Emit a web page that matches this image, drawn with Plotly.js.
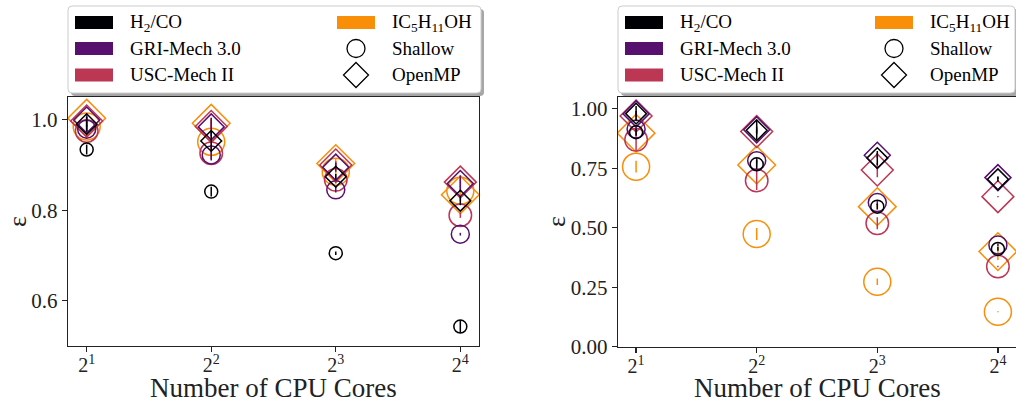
<!DOCTYPE html>
<html>
<head>
<meta charset="utf-8">
<script src="https://cdn.plot.ly/plotly-3.0.1.min.js"></script>
<style>
  html, body { margin: 0; padding: 0; background: #fff; }
  #chart { width: 1016px; height: 403px; }
</style>
</head>
<body>
<div id="chart"></div>
<script>
// ---- data -------------------------------------------------------------
const cores = [2, 4, 8, 16];
const tickLabels = ['2<sup>1</sup>', '2<sup>2</sup>', '2<sup>3</sup>', '2<sup>4</sup>'];
const mechanisms = ['H<sub>2</sub>/CO', 'GRI-Mech 3.0', 'USC-Mech II', 'IC<sub>5</sub>H<sub>11</sub>OH'];
const mechColors = ['#000004', '#57106e', '#bc3754', '#f98e09'];
const methods = ['Shallow', 'OpenMP'];
const xLabel = 'Number of CPU Cores';
const yLabel = 'ε';

// left panel: efficiency per mechanism (rows follow `mechanisms`)
const leftShallow = [
  [0.934, 0.841, 0.705, 0.543],
  [0.979, 0.922, 0.845, 0.747],
  [0.975, 0.926, 0.867, 0.789],
  [0.985, 0.951, 0.885, 0.843]
];
const leftShallowErr = [
  [0.011, 0.011, 0.004, 0.014],
  [0.010, 0.012, 0.006, 0.003],
  [0.012, 0.014, 0.008, 0.006],
  [0.012, 0.014, 0.010, 0.010]
];
const leftOpenMP = [
  [0.990, 0.953, 0.874, 0.821],
  [0.999, 0.984, 0.895, 0.859],
  [0.997, 0.985, 0.900, 0.862],
  [1.003, 0.992, 0.903, 0.834]
];
const leftOpenMPErr = [
  [0.016, 0.022, 0.006, 0.010],
  [0.014, 0.020, 0.010, 0.018],
  [0.012, 0.016, 0.008, 0.012],
  [0.010, 0.012, 0.012, 0.014]
];

// right panel
const rightShallow = [
  [0.902, 0.767, 0.589, 0.411],
  [0.915, 0.782, 0.606, 0.428],
  [0.870, 0.699, 0.519, 0.337],
  [0.757, 0.474, 0.273, 0.147]
];
const rightShallowErr = [
  [0.015, 0.020, 0.012, 0.008],
  [0.010, 0.012, 0.010, 0.006],
  [0.045, 0.040, 0.025, 0.003],
  [0.025, 0.025, 0.014, 0.002]
];
const rightOpenMP = [
  [0.980, 0.910, 0.793, 0.704],
  [0.979, 0.912, 0.805, 0.711],
  [0.970, 0.905, 0.743, 0.631],
  [0.898, 0.764, 0.589, 0.400]
];
const rightOpenMPErr = [
  [0.032, 0.040, 0.030, 0.010],
  [0.012, 0.014, 0.010, 0.006],
  [0.020, 0.012, 0.030, 0.003],
  [0.012, 0.010, 0.012, 0.035]
];

// ---- styling ------------------------------------------------------------
const W = 1016, H = 403;
const FONT = 'Liberation Serif, Times New Roman, serif';
const circleSize = [13, 18, 22.5, 27];
const diamondSize = [16, 20, 24.5, 29];
const px = x => x / W;
const py = y => 1 - y / H;

const panels = [
  { shallow: leftShallow, shallowErr: leftShallowErr, openmp: leftOpenMP, openmpErr: leftOpenMPErr, xa: 'x', ya: 'y' },
  { shallow: rightShallow, shallowErr: rightShallowErr, openmp: rightOpenMP, openmpErr: rightOpenMPErr, xa: 'x2', ya: 'y2' }
];

const traces = [];
const drawOrder = [3, 2, 1, 0];
panels.forEach(p => {
  drawOrder.forEach(m => {
    [['circle-open', p.shallow, p.shallowErr, circleSize, methods[0]],
     ['diamond-open', p.openmp, p.openmpErr, diamondSize, methods[1]]].forEach(([sym, vals, errs, sizes, meth]) => {
      traces.push({
        type: 'scatter', mode: 'markers',
        x: cores, y: vals[m],
        xaxis: p.xa, yaxis: p.ya,
        name: mechanisms[m] + ' ' + meth,
        showlegend: false,
        marker: { symbol: sym, size: sizes[m], color: mechColors[m], line: { width: 1.5, color: mechColors[m] } },
        error_y: { type: 'data', array: errs[m], color: mechColors[m], thickness: 1.5, width: 0 },
        hoverinfo: 'x+y+name'
      });
    });
  });
});

// ---- legend boxes drawn as shapes + annotations -------------------------
function roundRect(x0, y0, x1, y1, r) {
  return `M${px(x0 + r)},${py(y0)} L${px(x1 - r)},${py(y0)} Q${px(x1)},${py(y0)} ${px(x1)},${py(y0 + r)} ` +
         `L${px(x1)},${py(y1 - r)} Q${px(x1)},${py(y1)} ${px(x1 - r)},${py(y1)} ` +
         `L${px(x0 + r)},${py(y1)} Q${px(x0)},${py(y1)} ${px(x0)},${py(y1 - r)} ` +
         `L${px(x0)},${py(y0 + r)} Q${px(x0)},${py(y0)} ${px(x0 + r)},${py(y0)} Z`;
}

const legendBoxes = [
  { left: 68, right: 481, patch1: 75, text1: 128, patch2: 337, text2: 390, mark: 356 },
  { left: 618, right: 1015, patch1: 625, text1: 678, patch2: 875, text2: 928, mark: 894 }
];
const rowY = [22.5, 48.5, 75];
const boxTop = 6, boxBottom = 93;

const shapes = [];
const annotations = [];
legendBoxes.forEach(b => {
  shapes.push({ type: 'path', xref: 'paper', yref: 'paper', path: roundRect(b.left + 3, boxTop + 3, b.right + 3, boxBottom + 3, 4),
                fillcolor: 'rgba(0,0,0,0.35)', line: { width: 0 } });
  shapes.push({ type: 'path', xref: 'paper', yref: 'paper', path: roundRect(b.left, boxTop, b.right, boxBottom, 4),
                fillcolor: '#ffffff', line: { color: '#cccccc', width: 1 } });
  // colour patches: first three mechanisms in column 1, last one in column 2
  const patchSlots = [[b.patch1, rowY[0]], [b.patch1, rowY[1]], [b.patch1, rowY[2]], [b.patch2, rowY[0]]];
  const textSlots = [[b.text1, rowY[0]], [b.text1, rowY[1]], [b.text1, rowY[2]], [b.text2, rowY[0]]];
  mechanisms.forEach((name, i) => {
    const [x, y] = patchSlots[i];
    shapes.push({ type: 'rect', xref: 'paper', yref: 'paper', x0: px(x), x1: px(x + 38), y0: py(y + 6.5), y1: py(y - 6.5),
                  fillcolor: mechColors[i], line: { width: 0 } });
    annotations.push({ xref: 'paper', yref: 'paper', x: px(textSlots[i][0]), y: py(textSlots[i][1]), xanchor: 'left', yanchor: 'middle',
                       text: name, showarrow: false, font: { family: FONT, size: 19, color: '#000' } });
  });
  // marker entries
  shapes.push({ type: 'circle', xref: 'paper', yref: 'paper', x0: px(b.mark - 9), x1: px(b.mark + 9), y0: py(rowY[1] + 9), y1: py(rowY[1] - 9),
                line: { color: '#000', width: 1.3 } });
  const dy = rowY[2], dr = 12.5;
  shapes.push({ type: 'path', xref: 'paper', yref: 'paper',
                path: `M${px(b.mark)},${py(dy - dr)} L${px(b.mark + dr)},${py(dy)} L${px(b.mark)},${py(dy + dr)} L${px(b.mark - dr)},${py(dy)} Z`,
                line: { color: '#000', width: 1.3 } });
  annotations.push({ xref: 'paper', yref: 'paper', x: px(b.text2), y: py(rowY[1]), xanchor: 'left', yanchor: 'middle',
                     text: methods[0], showarrow: false, font: { family: FONT, size: 19, color: '#000' } });
  annotations.push({ xref: 'paper', yref: 'paper', x: px(b.text2), y: py(rowY[2]), xanchor: 'left', yanchor: 'middle',
                     text: methods[1], showarrow: false, font: { family: FONT, size: 19, color: '#000' } });
});

// ---- axis titles (placed explicitly, margins are zero) -------------------
[[273.5, 17], [817, 556]].forEach(([xc, yc]) => {
  annotations.push({ xref: 'paper', yref: 'paper', x: px(xc), y: py(387.5), xanchor: 'center', yanchor: 'middle',
                     text: xLabel, showarrow: false, borderpad: 0, font: { family: FONT, size: 27, color: '#222' } });
  annotations.push({ xref: 'paper', yref: 'paper', x: px(yc), y: py(222), xanchor: 'center', yanchor: 'middle',
                     text: yLabel, textangle: -90, showarrow: false, font: { family: FONT, size: 26, color: '#222' } });
});

// ---- axes ---------------------------------------------------------------
const xRange = [Math.log10(Math.pow(2, 0.85)), Math.log10(Math.pow(2, 4.15))];
const axisCommon = {
  showline: true, mirror: true, linecolor: '#222', linewidth: 1.2,
  ticks: 'outside', ticklen: 5, tickwidth: 1.2, tickcolor: '#222',
  showgrid: false, zeroline: false,
  tickfont: { family: FONT, size: 21, color: '#222' }
};
const xTickFont = { family: FONT, size: 20, color: '#222' };

const layout = {
  width: W, height: H,
  margin: { l: 0, r: 0, t: 0, b: 0 },
  paper_bgcolor: '#fff', plot_bgcolor: '#fff',
  xaxis: Object.assign({}, axisCommon, { domain: [px(68), px(479)], anchor: 'y', type: 'log', range: xRange,
          tickvals: cores, ticktext: tickLabels, tickfont: xTickFont, ticklabelstandoff: -4 }),
  yaxis: Object.assign({}, axisCommon, { domain: [py(346), py(97)], anchor: 'x', range: [0.5, 1.05],
          tickvals: [0.6, 0.8, 1.0], ticktext: ['0.6', '0.8', '1.0'] }),
  xaxis2: Object.assign({}, axisCommon, { domain: [px(618), 1], anchor: 'y2', type: 'log', range: xRange,
          tickvals: cores, ticktext: tickLabels, tickfont: xTickFont, ticklabelstandoff: -4 }),
  yaxis2: Object.assign({}, axisCommon, { domain: [py(346.7), py(97)], anchor: 'x2', range: [0, 1.05],
          tickvals: [0, 0.25, 0.5, 0.75, 1.0], ticktext: ['0.00', '0.25', '0.50', '0.75', '1.00'] }),
  shapes: shapes,
  annotations: annotations,
  showlegend: false
};

Plotly.newPlot('chart', traces, layout, { displayModeBar: false, staticPlot: true });
</script>
</body>
</html>
